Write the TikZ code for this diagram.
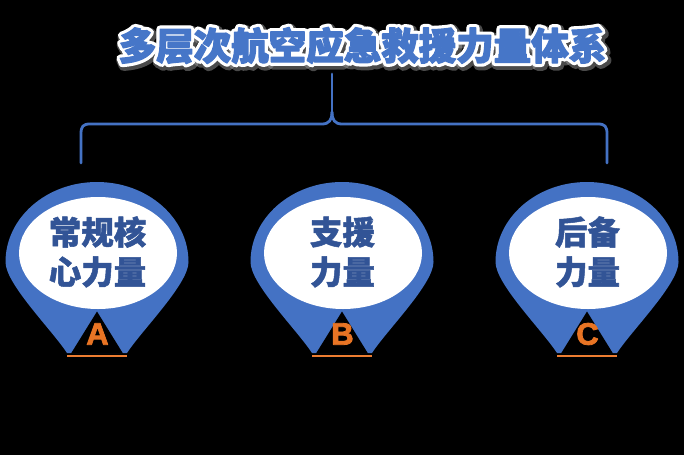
\documentclass[tikz,border=0pt]{standalone}
\usepackage{fontspec}
\usetikzlibrary{calc}
\newfontfamily\cjk{Noto Sans CJK SC}
\newfontfamily\latb{Liberation Sans}
\definecolor{pinblue}{RGB}{68,114,196}
\definecolor{titleblue}{RGB}{70,118,200}
\definecolor{txtblue}{RGB}{50,84,150}
\definecolor{orangeA}{RGB}{232,116,36}
\definecolor{orangeL}{RGB}{237,125,49}
\newcommand\strokedtext[2]{\special{pdf:literal direct 2 Tr #1 w 1 j}#2\special{pdf:literal direct 0 Tr}}
\tikzset{
  bracestyle/.style={draw=pinblue,line width=2.8pt,line join=round,line cap=round},
  pintext/.style={font=\cjk\bfseries\fontsize{32.5}{40}\selectfont,text=txtblue,align=center,inner sep=0pt},
  lettertext/.style={font=\latb\bfseries\fontsize{31}{31}\selectfont,text=orangeA,inner sep=0pt},
  titletext/.style={font=\cjk\bfseries\fontsize{37.5}{40}\selectfont,inner sep=0pt}
}
\newcommand\mypin[5]{%
  \fill[pinblue] (#1-30,353) .. controls (#1-45,330) and (#1-91.5,284) .. (#1-91.5,262)
     arc[start angle=180,end angle=360,x radius=91.5,y radius=80]
     .. controls (#1+91.5,284) and (#1+45,330) .. (#1+30,353) -- cycle;
  \fill[white] (#1+1,253) ellipse[x radius=79,y radius=56];
  \fill[black] (#1,311.5) -- (#1-26,353.5) -- (#1+26,353.5) -- cycle;
  \draw[orangeL,line width=2pt] (#1-30,355.5) -- (#1+30,355.5);
  \node[pintext] (#2t1) at (#1+0.5,232) {\strokedtext{0.5}{#3}};
  \node[pintext] (#2t2) at (#1+0.5,272) {\strokedtext{0.5}{#4}};
  \node[lettertext] (#2l) at (#1+0.5,334) {\strokedtext{0.8}{#5}};
}
\begin{document}
\begin{tikzpicture}[x=1pt,y=-1pt]
\useasboundingbox (0,0) rectangle (684,455);
\fill[black] (0,0) rectangle (684,455);
% title with glow
\node[titletext,text=gray!70,opacity=0.45] (titleshadow) at (364,47.5) {\strokedtext{11}{多层次航空应急救援力量体系}};
\node[titletext,text=white] (titleglow) at (362.5,45.5) {\strokedtext{7.5}{多层次航空应急救援力量体系}};
\node[titletext,text=titleblue] (title) at (362.5,45.5) {\strokedtext{1.2}{多层次航空应急救援力量体系}};
% brace
\coordinate (stemtop) at (332,74);
\coordinate (peak) at (332,112);
\coordinate (lend) at (81,163);
\coordinate (rend) at (607,163);
\draw[bracestyle] (lend) -- (81,134) .. controls (81,126.5) and (83,124) .. (90,124)
  -- (322,124) .. controls (329,124) and (332,120) .. (peak);
\draw[bracestyle] (rend) -- (607,134) .. controls (607,126.5) and (605,124) .. (598,124)
  -- (342,124) .. controls (335,124) and (332,120) .. (peak);
\draw[bracestyle] (peak) -- (stemtop);
% pins
\mypin{97}{a}{常规核}{心力量}{A}
\mypin{342}{b}{支援}{力量}{B}
\mypin{587}{c}{后备}{力量}{C}
\end{tikzpicture}
\end{document}
